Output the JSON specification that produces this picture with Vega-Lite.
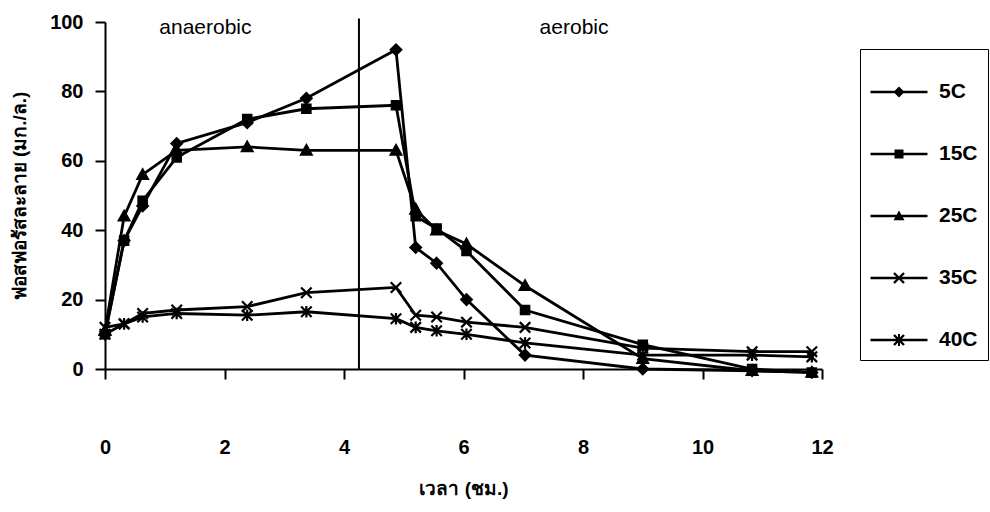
{
  "$schema": "https://vega.github.io/schema/vega-lite/v6.json",
  "width": 717,
  "height": 347,
  "autosize": {"type": "none"},
  "padding": {"left": 105, "top": 22, "right": 168, "bottom": 143},
  "background": "white",
  "config": {
    "view": {"stroke": null},
    "font": "Liberation Sans",
    "axis": {
      "grid": false,
      "domainColor": "black",
      "domainWidth": 2,
      "tickColor": "black",
      "tickWidth": 2,
      "tickSize": 10,
      "labelColor": "black",
      "labelFont": "Liberation Sans",
      "labelFontSize": 20,
      "labelFontWeight": "bold",
      "titleColor": "black",
      "titleFont": "Liberation Sans",
      "titleFontSize": 19,
      "titleFontWeight": "bold"
    }
  },
  "datasets": {
    "obs": [
      {"series": "5C", "t": 0, "p": 10},
      {"series": "5C", "t": 0.32, "p": 37},
      {"series": "5C", "t": 0.63, "p": 47},
      {"series": "5C", "t": 1.2, "p": 65},
      {"series": "5C", "t": 2.38, "p": 71},
      {"series": "5C", "t": 3.37, "p": 78},
      {"series": "5C", "t": 4.87, "p": 92},
      {"series": "5C", "t": 5.2, "p": 35},
      {"series": "5C", "t": 5.55, "p": 30.5},
      {"series": "5C", "t": 6.05, "p": 20},
      {"series": "5C", "t": 7.03, "p": 4},
      {"series": "5C", "t": 9, "p": 0},
      {"series": "5C", "t": 10.83, "p": -0.5},
      {"series": "5C", "t": 11.83, "p": -1},
      {"series": "15C", "t": 0, "p": 10},
      {"series": "15C", "t": 0.32, "p": 37},
      {"series": "15C", "t": 0.63, "p": 48.5},
      {"series": "15C", "t": 1.2, "p": 61},
      {"series": "15C", "t": 2.38, "p": 72},
      {"series": "15C", "t": 3.37, "p": 75},
      {"series": "15C", "t": 4.87, "p": 76},
      {"series": "15C", "t": 5.2, "p": 44},
      {"series": "15C", "t": 5.55, "p": 40.5},
      {"series": "15C", "t": 6.05, "p": 34},
      {"series": "15C", "t": 7.03, "p": 17},
      {"series": "15C", "t": 9, "p": 7},
      {"series": "15C", "t": 10.83, "p": 0},
      {"series": "15C", "t": 11.83, "p": -1},
      {"series": "25C", "t": 0, "p": 11},
      {"series": "25C", "t": 0.32, "p": 44},
      {"series": "25C", "t": 0.63, "p": 56},
      {"series": "25C", "t": 1.2, "p": 63},
      {"series": "25C", "t": 2.38, "p": 64},
      {"series": "25C", "t": 3.37, "p": 63},
      {"series": "25C", "t": 4.87, "p": 63},
      {"series": "25C", "t": 5.2, "p": 46},
      {"series": "25C", "t": 5.55, "p": 40},
      {"series": "25C", "t": 6.05, "p": 36},
      {"series": "25C", "t": 7.03, "p": 24},
      {"series": "25C", "t": 9, "p": 3},
      {"series": "25C", "t": 10.83, "p": -0.5},
      {"series": "25C", "t": 11.83, "p": -1},
      {"series": "35C", "t": 0, "p": 12},
      {"series": "35C", "t": 0.32, "p": 13},
      {"series": "35C", "t": 0.63, "p": 16},
      {"series": "35C", "t": 1.2, "p": 17},
      {"series": "35C", "t": 2.38, "p": 18},
      {"series": "35C", "t": 3.37, "p": 22},
      {"series": "35C", "t": 4.87, "p": 23.5},
      {"series": "35C", "t": 5.2, "p": 15.5},
      {"series": "35C", "t": 5.55, "p": 15},
      {"series": "35C", "t": 6.05, "p": 13.5},
      {"series": "35C", "t": 7.03, "p": 12},
      {"series": "35C", "t": 9, "p": 6},
      {"series": "35C", "t": 10.83, "p": 5},
      {"series": "35C", "t": 11.83, "p": 5},
      {"series": "40C", "t": 0, "p": 10},
      {"series": "40C", "t": 0.32, "p": 13},
      {"series": "40C", "t": 0.63, "p": 15},
      {"series": "40C", "t": 1.2, "p": 16},
      {"series": "40C", "t": 2.38, "p": 15.5},
      {"series": "40C", "t": 3.37, "p": 16.5},
      {"series": "40C", "t": 4.87, "p": 14.5},
      {"series": "40C", "t": 5.2, "p": 12},
      {"series": "40C", "t": 5.55, "p": 11},
      {"series": "40C", "t": 6.05, "p": 10},
      {"series": "40C", "t": 7.03, "p": 7.5},
      {"series": "40C", "t": 9, "p": 4},
      {"series": "40C", "t": 10.83, "p": 4},
      {"series": "40C", "t": 11.83, "p": 3.5}
    ],
    "phase": [
      {"t": 4.25, "p": 0, "p2": 101}
    ],
    "notes": [
      {"label": "anaerobic", "t": 1.68, "p": 98.3},
      {"label": "aerobic", "t": 7.85, "p": 98.3}
    ]
  },
  "layer": [
    {
      "data": {"name": "phase"},
      "mark": {"type": "rule", "color": "black", "strokeWidth": 2},
      "encoding": {
        "x": {"field": "t", "type": "quantitative"},
        "y": {"field": "p", "type": "quantitative"},
        "y2": {"field": "p2"}
      }
    },
    {
      "data": {"name": "notes"},
      "mark": {"type": "text", "fontSize": 21, "font": "Liberation Sans", "color": "black", "align": "center", "baseline": "middle"},
      "encoding": {
        "x": {"field": "t", "type": "quantitative"},
        "y": {"field": "p", "type": "quantitative"},
        "text": {"field": "label"}
      }
    },
    {
      "data": {"name": "obs"},
      "mark": {"type": "line", "color": "black", "strokeWidth": 2.8},
      "encoding": {
        "x": {
          "field": "t", "type": "quantitative",
          "scale": {"domain": [0, 12], "nice": false, "zero": false},
          "axis": {"values": [0, 2, 4, 6, 8, 10, 12], "format": "d", "title": "เวลา (ชม.)", "labelPadding": 58, "titlePadding": 22, "labelFlush": false}
        },
        "y": {
          "field": "p", "type": "quantitative",
          "scale": {"domain": [0, 100], "nice": false},
          "axis": {"values": [0, 20, 40, 60, 80, 100], "format": "d", "title": "ฟอสฟอรัสละลาย (มก./ล.)", "labelPadding": 12, "titlePadding": 20}
        },
        "detail": {"field": "series"}
      }
    },
    {
      "data": {"name": "obs"},
      "mark": {"type": "point", "filled": true, "color": "black", "stroke": "black", "strokeWidth": 2.2, "size": 110, "opacity": 1},
      "encoding": {
        "x": {"field": "t", "type": "quantitative"},
        "y": {"field": "p", "type": "quantitative"},
        "shape": {
          "field": "series", "type": "nominal",
          "scale": {
            "domain": ["5C", "15C", "25C", "35C", "40C"],
            "range": [
              "M0,-1L1,0L0,1L-1,0Z",
              "M-0.8,-0.8H0.8V0.8H-0.8Z",
              "M0,-1L1,0.8H-1Z",
              "M-1,-1L1,1M1,-1L-1,1",
              "M-1,-1L1,1M1,-1L-1,1M0,-1.1V1.1"
            ]
          },
          "legend": null
        }
      }
    },
    {
      "data": {"name": "obs"},
      "transform": [{"filter": "datum.t < -100"}],
      "mark": {"type": "point", "filled": true, "color": "black", "opacity": 1},
      "encoding": {
        "x": {"field": "t", "type": "quantitative"},
        "y": {"field": "p", "type": "quantitative"},
        "shape": {
          "field": "series", "type": "nominal",
          "scale": {
            "domain": ["5C", "15C", "25C", "35C", "40C"],
            "range": [
              "M-2.85,-0.12H2.85V0.12H-2.85ZM0,-0.55L0.55,0L0,0.55L-0.55,0Z",
              "M-2.85,-0.12H2.85V0.12H-2.85ZM-0.45,-0.45H0.45V0.45H-0.45Z",
              "M-2.85,-0.12H2.85V0.12H-2.85ZM0,-0.55L0.55,0.42H-0.55Z",
              "M-2.85,-0.12V0.12H2.85V-0.12ZM-0.585,-0.415L0.415,0.585L0.585,0.415L-0.415,-0.585ZM-0.415,0.585L0.585,-0.415L0.415,-0.585L-0.585,0.415Z",
              "M-2.85,-0.12V0.12H2.85V-0.12ZM-0.585,-0.415L0.415,0.585L0.585,0.415L-0.415,-0.585ZM-0.415,0.585L0.585,-0.415L0.415,-0.585L-0.585,0.415ZM-0.1,-0.6V0.6H0.1V-0.6Z"
            ]
          },
          "legend": {
            "title": " ",
            "titleFontSize": 10,
            "titlePadding": 12,
            "orient": "none",
            "legendX": 755,
            "legendY": 27,
            "strokeColor": "black",
            "padding": 10,
            "symbolSize": 400,
            "symbolFillColor": "black",
            "symbolOffset": 18,
            "labelOffset": 29,
            "labelFont": "Liberation Sans",
            "labelFontSize": 21,
            "labelFontWeight": "bold",
            "labelColor": "black",
            "rowPadding": 41
          }
        }
      }
    }
  ],
  "resolve": {"scale": {"shape": "independent"}, "legend": {"shape": "independent"}}
}
